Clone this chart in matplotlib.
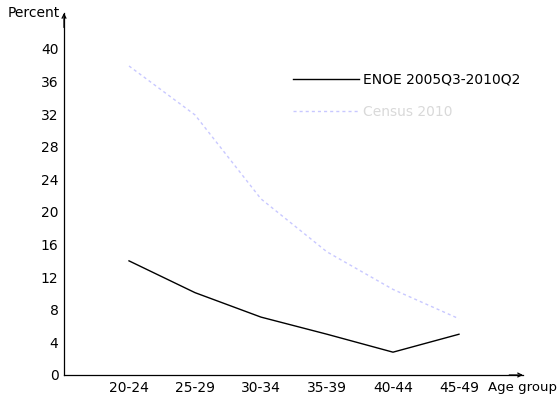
import matplotlib.pyplot as plt
import numpy as np

plt.rcParams['font.family'] = ['DejaVu Sans']

age_groups = ['20-24', '25-29', '30-34', '35-39', '40-44', '45-49']
enoe = [14.0, 10.1, 7.1, 5.0, 2.8, 5.0]
census = [37.9, 31.9, 21.6, 15.1, 10.5, 6.9]
yticks = [0, 4, 8, 12, 16, 20, 24, 28, 32, 36, 40]

fig = plt.figure(figsize=(5.6, 3.94), dpi=100)
ax = fig.add_axes([64/560, 1 - 375/394, (523 - 64)/560, (375 - 13)/394])

x = np.arange(len(age_groups))
ax.plot(x, enoe, color='black', lw=1.0, label='ENOE 2005Q3-2010Q2')
ax.plot(x, census, color='#c8c8ff', lw=1.0, ls=(0, (2.2, 2.2)), label='Census 2010')

ax.set_xlim(-0.985, 5.97)
ax.set_ylim(0, 44.4)
ax.set_xticks(x)
ax.set_xticklabels(age_groups)
ax.set_yticks(yticks)
ax.tick_params(length=0, labelsize=10, pad=4)

for s in ['top', 'right']:
    ax.spines[s].set_visible(False)
for s in ['left', 'bottom']:
    ax.spines[s].set_linewidth(0.9)

# arrow heads at the end of the axes
ax.annotate('', xy=(1.0, 0), xytext=(0.97, 0), xycoords='axes fraction',
            arrowprops=dict(arrowstyle='->', lw=0.9, color='black',
                            shrinkA=0, shrinkB=0, mutation_scale=7))
ax.annotate('', xy=(0, 1.0), xytext=(0, 0.96), xycoords='axes fraction',
            arrowprops=dict(arrowstyle='->', lw=0.9, color='black',
                            shrinkA=0, shrinkB=0, mutation_scale=7))

ax.text(-0.01, 1.0, 'Percent', transform=ax.transAxes, ha='right', va='center',
        fontsize=10)
ax.text((488 - 64)/459, -0.034, 'Age group', transform=ax.transAxes, ha='left',
        va='center', fontsize=9.5)

leg = ax.legend(loc='upper left', bbox_to_anchor=((287 - 64)/459, 1 - (67 - 13)/362),
                frameon=False, fontsize=10, handlelength=4.8, handletextpad=0.3,
                labelspacing=1.35, borderaxespad=0)
leg.get_texts()[1].set_color('#d9d9d9')

fig.savefig('out.png', dpi=100)
